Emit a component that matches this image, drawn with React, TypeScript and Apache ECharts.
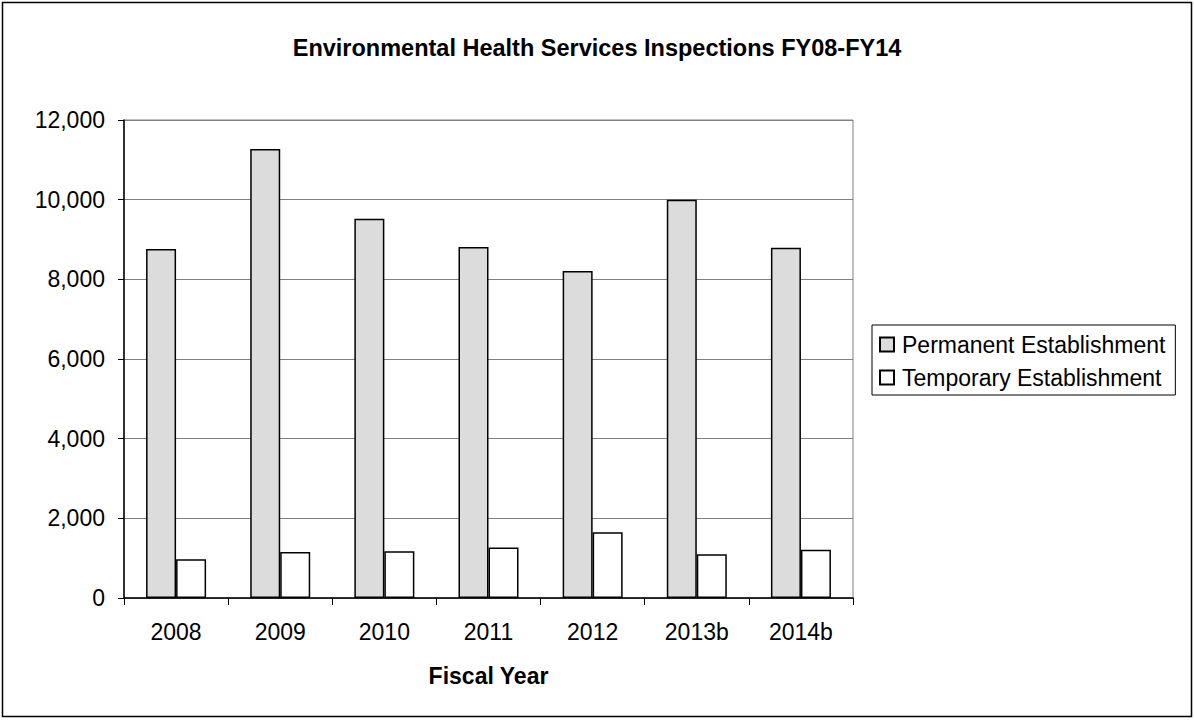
import React, { useEffect, useRef } from "react";
import * as echarts from "echarts";

// Fiscal years and inspection counts
const years = ["2008", "2009", "2010", "2011", "2012", "2013b", "2014b"];
const permanent = [8760, 11270, 9520, 8810, 8210, 10000, 8790];
const temporary = [975, 1155, 1175, 1265, 1650, 1100, 1210];
const yTicks = { min: 0, max: 12000, step: 2000 };

const FONT = "'Liberation Sans', Arial, sans-serif";

export default function App() {
  const ref = useRef<HTMLDivElement>(null);

  useEffect(() => {
    if (!ref.current) return;
    const chart = echarts.init(ref.current, null, { renderer: "svg" });
    chart.setOption({
      animation: false,
      backgroundColor: "#ffffff",
      textStyle: { fontFamily: FONT, color: "#000" },
      title: {
        text: "Environmental Health Services Inspections FY08-FY14",
        left: "center",
        top: 36,
        padding: 0,
        textStyle: { fontFamily: FONT, fontSize: 23.5, fontWeight: "bold", color: "#000" },
      },
      legend: {
        orient: "vertical",
        left: 872,
        top: 325,
        padding: [8, 10, 6, 7],
        itemWidth: 14,
        itemHeight: 14,
        itemGap: 10,
        borderColor: "#000",
        borderWidth: 1,
        icon: "rect",
        textStyle: { fontFamily: FONT, fontSize: 23, color: "#000", padding: [0, 0, 0, 3] },
        data: ["Permanent Establishment", "Temporary Establishment"],
      },
      grid: {
        left: 124,
        right: 341,
        top: 120,
        bottom: 122,
        show: true,
        borderColor: "#808080",
        borderWidth: 1,
      },
      xAxis: {
        type: "category",
        data: years,
        name: "Fiscal Year",
        nameLocation: "middle",
        nameGap: 66,
        nameTextStyle: { fontFamily: FONT, fontSize: 23, fontWeight: "bold", color: "#000" },
        axisLine: { lineStyle: { color: "#000", width: 1.5 } },
        axisTick: { show: true, length: 7, alignWithLabel: false, lineStyle: { color: "#000" } },
        axisLabel: { fontFamily: FONT, fontSize: 23, color: "#000", margin: 22 },
      },
      yAxis: {
        type: "value",
        min: yTicks.min,
        max: yTicks.max,
        interval: yTicks.step,
        axisLine: { show: true, lineStyle: { color: "#000", width: 1.5 } },
        axisTick: { show: true, length: 6, lineStyle: { color: "#000" } },
        axisLabel: {
          fontFamily: FONT,
          fontSize: 23,
          color: "#000",
          margin: 19,
          formatter: (v: number) => v.toLocaleString("en-US"),
        },
        splitLine: { lineStyle: { color: "#808080", width: 1.2 } },
      },
      series: [
        {
          name: "Permanent Establishment",
          type: "bar",
          data: permanent,
          barWidth: 30,
          barGap: "0%",
          itemStyle: { color: "#dcdcdc", borderColor: "#000", borderWidth: 1.5 },
        },
        {
          name: "Temporary Establishment",
          type: "bar",
          data: temporary,
          barWidth: 30,
          barGap: "0%",
          itemStyle: { color: "#ffffff", borderColor: "#000", borderWidth: 1.5 },
        },
      ],
      graphic: [
        {
          type: "rect",
          shape: { x: 2.5, y: 2.5, width: 1189, height: 714 },
          style: { fill: "none", stroke: "#000", lineWidth: 1.5 },
          silent: true,
        },
      ],
    });
    return () => chart.dispose();
  }, []);

  return (
    <div
      ref={ref}
      style={{ position: "absolute", left: 0, top: 0, width: 1194, height: 720 }}
    />
  );
}
